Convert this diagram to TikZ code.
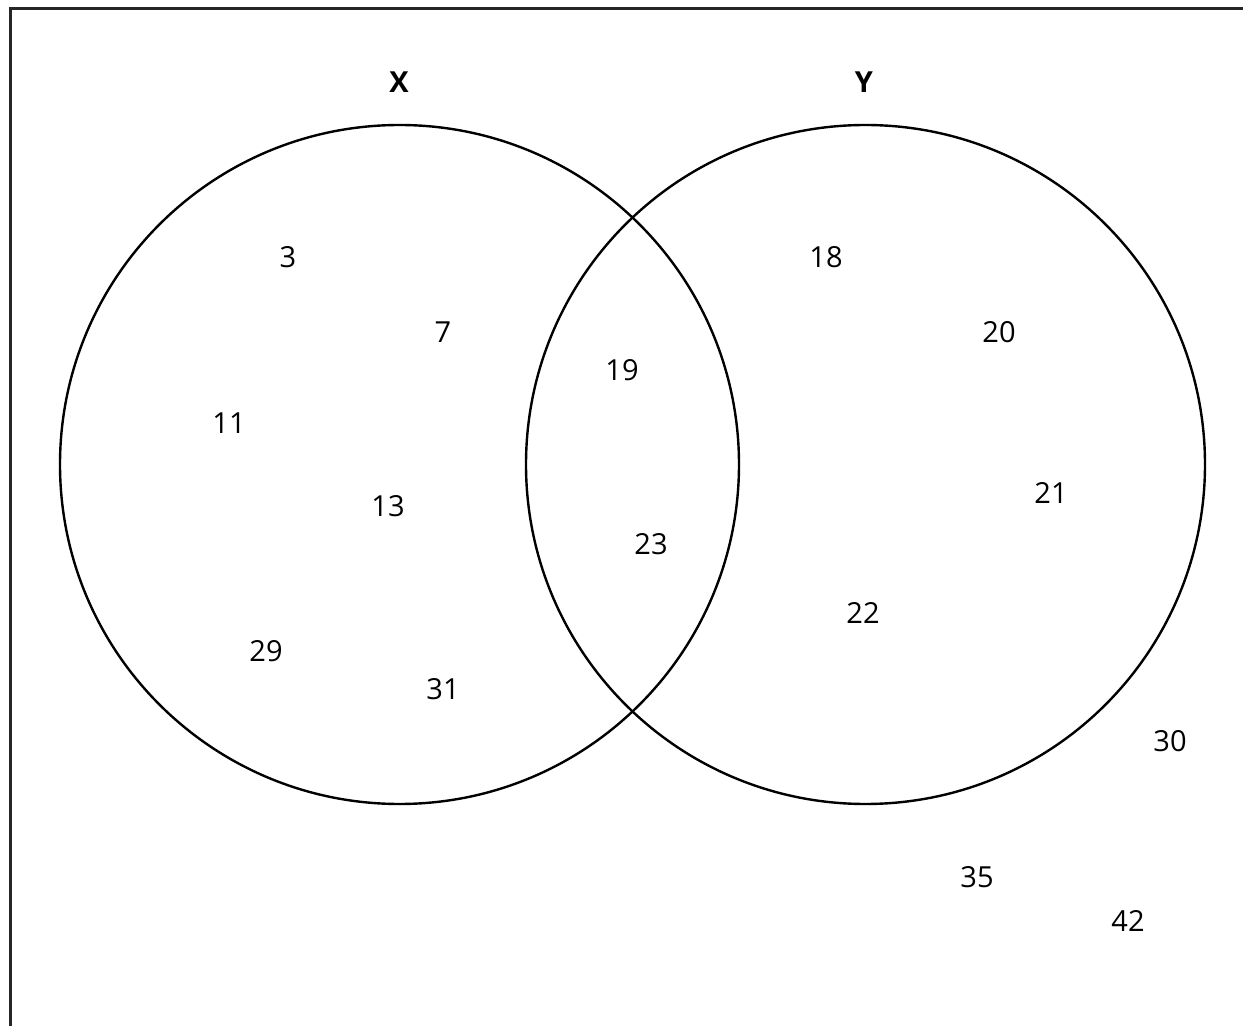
\documentclass[tikz,border=0pt]{standalone}
\usepackage{fontspec}
\setmainfont{Open Sans}
\usepackage{tikz}
\usetikzlibrary{positioning}

\begin{document}
\begin{tikzpicture}[
            x=0.5pt, y=-0.5pt,
            font=\fontsize{14.5}{17}\selectfont,
            frame/.style={line width=1.5pt, black!85},
            setcircle/.style={
                    draw, circle, line width=1.2pt,
                    minimum size=339.5pt, inner sep=0pt
                },
            setname/.style={font=\fontsize{14.5}{17}\selectfont\bfseries},
            elem/.style={inner sep=1pt},
            ]
            \useasboundingbox (0,0) rectangle (1243,1026);

            % outer frame (universal set), cut off at right and bottom
            \coordinate (cornerBL) at (10.5,1026);
            \coordinate (cornerTL) at (10.5,8.5);
            \coordinate (cornerTR) at (1243,8.5);
            \draw[frame] (cornerBL) -- (cornerTL) -- (cornerTR);

            % the two sets
            \node[setcircle] (setX) at (399.5,464.5) {};
            \node[setcircle] (setY) at (865.5,464.5) {};
            \node[setname] (nameX) at (399,82) {X};
            \node[setname] (nameY) at (864,82) {Y};

            % only in X
            \node[elem] (e3) at (288,257) {3};
            \node[elem] (e7) at (443,332) {7};
            \node[elem] (e11) at (229,423) {11};
            \node[elem] (e13) at (388,506) {13};
            \node[elem] (e29) at (266,651) {29};
            \node[elem] (e31) at (443,689) {31};

            % in both
            \node[elem] (e19) at (622,370) {19};
            \node[elem] (e23) at (651,544) {23};

            % only in Y
            \node[elem] (e18) at (826,257) {18};
            \node[elem] (e20) at (999,332) {20};
            \node[elem] (e21) at (1051,493) {21};
            \node[elem] (e22) at (863,613) {22};

            % outside both
            \node[elem] (e30) at (1170,741) {30};
            \node[elem] (e35) at (977,877) {35};
            \node[elem] (e42) at (1128,921) {42};
        \end{tikzpicture}
\end{document}
